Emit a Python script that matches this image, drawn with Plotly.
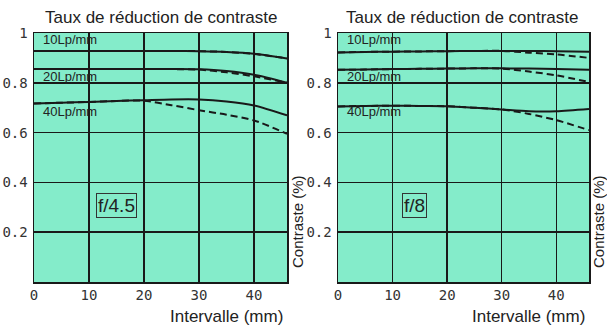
import plotly.graph_objects as go

W, H = 607, 326

# ---- data ----
x_pts = [0, 5, 10, 15, 20, 25, 30, 35, 40, 46]

# f/4.5 (left)
l_10_solid = [0.928, 0.928, 0.928, 0.928, 0.928, 0.928, 0.927, 0.924, 0.917, 0.898]
l_10_dash = [0.928, 0.928, 0.928, 0.928, 0.928, 0.928, 0.927, 0.924, 0.916, 0.898]
l_20_solid = [0.855, 0.855, 0.855, 0.855, 0.855, 0.855, 0.854, 0.847, 0.832, 0.800]
l_20_dash = [0.855, 0.855, 0.855, 0.855, 0.855, 0.855, 0.853, 0.842, 0.826, 0.800]
l_40_solid = [0.717, 0.720, 0.723, 0.727, 0.730, 0.733, 0.733, 0.725, 0.709, 0.669]
l_40_dash = [0.717, 0.720, 0.723, 0.727, 0.728, 0.710, 0.690, 0.672, 0.649, 0.595]

# f/8 (right)
r_10_solid = [0.922, 0.924, 0.925, 0.926, 0.927, 0.928, 0.928, 0.928, 0.927, 0.925]
r_10_dash = [0.922, 0.924, 0.925, 0.926, 0.927, 0.928, 0.928, 0.921, 0.914, 0.900]
r_20_solid = [0.852, 0.853, 0.855, 0.856, 0.857, 0.858, 0.858, 0.857, 0.855, 0.852]
r_20_dash = [0.852, 0.853, 0.855, 0.856, 0.857, 0.858, 0.857, 0.845, 0.830, 0.803]
r_40_solid = [0.705, 0.707, 0.708, 0.707, 0.706, 0.700, 0.693, 0.686, 0.686, 0.695]
r_40_dash = [0.705, 0.707, 0.708, 0.707, 0.706, 0.700, 0.693, 0.675, 0.650, 0.610]

x_ticks = [0, 10, 20, 30, 40]
x_ticklabels = ["0", "10", "20", "30", "40"]
y_ticks = [0.2, 0.4, 0.6, 0.8, 1.0]
y_ticklabels = ["0.2", "0.4", "0.6", "0.8", "1"]
freq_labels = ["10Lp/mm", "20Lp/mm", "40Lp/mm"]
title_text = "Taux de réduction de contraste"
x_title = "Intervalle (mm)"
y_title = "Contraste (%)"
aperture = ["f/4.5", "f/8"]

BG = "rgb(132,236,202)"
INK = "rgb(25,25,25)"
FONT = "Liberation Sans, Arial, sans-serif"
MONO = "DejaVu Sans Mono, monospace"


def px(x):
    return x / W


def py(y):
    return 1 - y / H


fig = go.Figure()

panels = [
    ("x", "y", [l_10_solid, l_20_solid, l_40_solid], [l_10_dash, l_20_dash, l_40_dash]),
    ("x2", "y2", [r_10_solid, r_20_solid, r_40_solid], [r_10_dash, r_20_dash, r_40_dash]),
]
for xa, ya, solids, dashes in panels:
    for s in dashes:
        fig.add_trace(go.Scatter(x=x_pts, y=s, xaxis=xa, yaxis=ya, mode="lines",
                                 line=dict(color=INK, width=2, dash="7px,4px", shape="spline", smoothing=0.8),
                                 showlegend=False, hoverinfo="skip"))
    for s in solids:
        fig.add_trace(go.Scatter(x=x_pts, y=s, xaxis=xa, yaxis=ya, mode="lines",
                                 line=dict(color=INK, width=2, shape="spline", smoothing=0.8),
                                 showlegend=False, hoverinfo="skip"))

# panel geometry (pixels)
plots = [(34, 287), (338, 589)]
top, bottom = 33, 282

common_x = dict(range=[0, 46], tickvals=x_ticks, ticktext=x_ticklabels, showgrid=True,
                gridcolor=INK, gridwidth=1.5, zeroline=False, showline=True, linecolor=INK,
                linewidth=1.5, mirror=True, ticks="", tickfont=dict(family=MONO, size=14, color="#333"),
                fixedrange=True, automargin=False)
common_y = dict(range=[0, 1], tickvals=y_ticks, ticktext=y_ticklabels, showgrid=True,
                gridcolor=INK, gridwidth=1.5, zeroline=False, showline=True, linecolor=INK,
                linewidth=1.5, mirror=True, ticks="", ticklabelstandoff=2,
                tickfont=dict(family=MONO, size=14, color="#333"), fixedrange=True, automargin=False)

fig.update_layout(
    width=W, height=H, margin=dict(l=0, r=0, t=0, b=0, autoexpand=False),
    paper_bgcolor="white", plot_bgcolor=BG,
    xaxis=dict(domain=[px(plots[0][0]), px(plots[0][1])], anchor="y", **common_x),
    yaxis=dict(domain=[py(bottom), py(top)], anchor="x", **common_y),
    xaxis2=dict(domain=[px(plots[1][0]), px(plots[1][1])], anchor="y2", **common_x),
    yaxis2=dict(domain=[py(bottom), py(top)], anchor="x2", **common_y),
)

ann = []
title_cx = [161, 462]
ytitle_cx = [298, 599]
for i, (x0, x1) in enumerate(plots):
    ann.append(dict(x=px(title_cx[i]), y=py(17), xref="paper", yref="paper", text=title_text,
                    showarrow=False, font=dict(family=FONT, size=17, color="#222"),
                    xanchor="center", yanchor="middle"))
    ann.append(dict(x=px(x1 - 2), y=py(316), xref="paper", yref="paper", text=x_title,
                    showarrow=False, font=dict(family=FONT, size=17, color="#222"),
                    xanchor="right", yanchor="middle"))
    ann.append(dict(x=px(ytitle_cx[i]), y=py(222), xref="paper", yref="paper", text=y_title,
                    showarrow=False, textangle=-90, font=dict(family=FONT, size=15, color="#222"),
                    xanchor="center", yanchor="middle"))
    for lab, yy in zip(freq_labels, [40, 76, 111]):
        ann.append(dict(x=px(x0 + 7), y=py(yy), xref="paper", yref="paper", text=lab,
                        showarrow=False, font=dict(family=FONT, size=13, color="#222"),
                        xanchor="left", yanchor="middle"))
    cx = 116 if i == 0 else 414
    ann.append(dict(x=px(cx), y=py(205), xref="paper", yref="paper", text=aperture[i],
                    showarrow=False, font=dict(family=FONT, size=19, color="#222"),
                    bordercolor="#333", borderwidth=1, borderpad=1,
                    xanchor="center", yanchor="middle"))

fig.update_layout(annotations=ann)
fig.write_html("out.html", config={"displayModeBar": False, "staticPlot": True})

# remove the default page margin so the figure sits at the window's top-left corner
with open("out.html", "r", encoding="utf-8") as f:
    html = f.read()
html = html.replace("<head>", "<head><style>html,body{margin:0;padding:0;overflow:hidden}</style>", 1)
with open("out.html", "w", encoding="utf-8") as f:
    f.write(html)
